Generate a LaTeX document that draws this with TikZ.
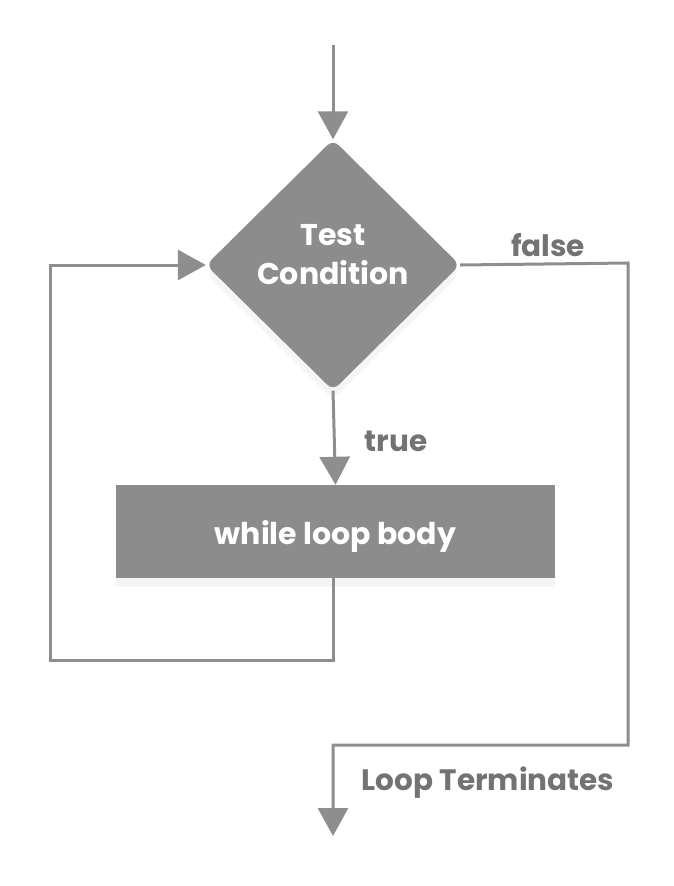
\documentclass[tikz,border=0pt]{standalone}
\usepackage{fontspec}
\setmainfont{Poppins}
\usetikzlibrary{shapes.geometric,arrows.meta,shadows}
\definecolor{boxgray}{HTML}{8C8C8C}
\definecolor{linegray}{HTML}{8E8E8E}
\definecolor{labelgray}{HTML}{737373}
\begin{document}
\begin{tikzpicture}[x=1pt,y=-1pt,
  shapebox/.style={fill=boxgray,draw=none,text=white,font=\fontsize{30}{38}\selectfont\bfseries,
    drop shadow={opacity=0.08,shadow xshift=0pt,shadow yshift=-9pt}},
  conn/.style={draw=linegray,line width=3pt},
  arr/.style={conn,-{Triangle[width=30pt,length=28pt]}},
  lbl/.style={text=labelgray,font=\fontsize{29.5}{36}\selectfont\bfseries}]
\useasboundingbox (0,0) rectangle (674,886);
\coordinate (start) at (333,45);
\node[shapebox,diamond,minimum width=254pt,minimum height=251pt,inner sep=0pt,rounded corners=8pt,align=center] (test) at (333,265) {\begin{tabular}{@{}c@{}}Test\\[1pt]Condition\rule[-26pt]{0pt}{0pt}\end{tabular}};
\node[shapebox,rectangle,minimum width=439pt,minimum height=93pt,inner sep=0pt] (body) at (335.5,531.5) {\rule{0pt}{34pt}while loop body};
\coordinate (b1) at (333,660);
\coordinate (b2) at (50,660);
\coordinate (b3) at (50,265);
\coordinate (f1) at (628,263);
\coordinate (f2) at (628,745);
\coordinate (f3) at (333,745);
\coordinate (end) at (333,836);
\draw[arr] (start) -- (test.north);
\draw[arr] (test.south) -- (body.north);
\draw[arr] (body.south -| b1) -- (b1) -- (b2) -- (b3) -- (test.west);
\draw[arr] (test.east) -- (f1) -- (f2) -- (f3) -- (end);
\node[lbl] (tl) at (396,441) {true};
\node[lbl] (fl) at (548,245) {false};
\node[lbl] (lt) at (488,783) {Loop Terminates};
\end{tikzpicture}
\end{document}
